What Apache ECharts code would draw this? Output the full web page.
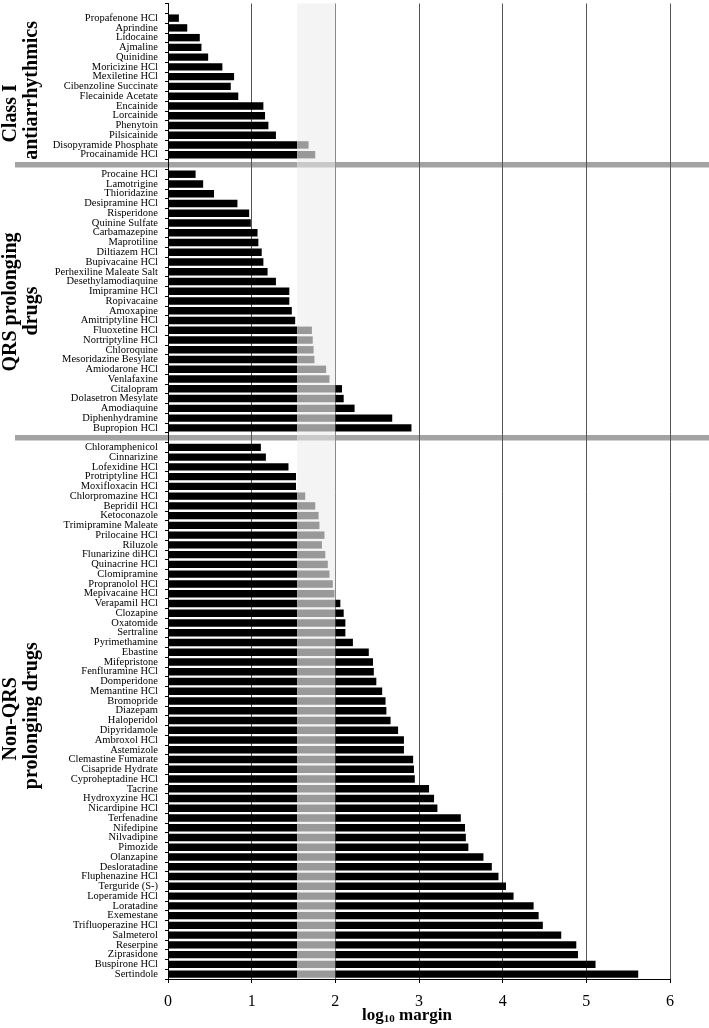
<!DOCTYPE html>
<html><head><meta charset="utf-8">
<script src="https://cdn.jsdelivr.net/npm/echarts@6/dist/echarts.min.js"></script>
<style>html,body{margin:0;padding:0;background:#fff}#c{width:709px;height:1028px}</style>
</head><body><div id="c"></div>
<script>
const classINames = ['Propafenone HCl','Aprindine','Lidocaine','Ajmaline','Quinidine','Moricizine HCl','Mexiletine HCl','Cibenzoline Succinate','Flecainide Acetate','Encainide','Lorcainide','Phenytoin','Pilsicainide','Disopyramide Phosphate','Procainamide HCl'];
const classIVals = [0.13,0.23,0.38,0.40,0.48,0.65,0.79,0.75,0.84,1.14,1.16,1.20,1.29,1.68,1.76];

const qrsNames = ['Procaine HCl','Lamotrigine','Thioridazine','Desipramine HCl','Risperidone','Quinine Sulfate','Carbamazepine','Maprotiline','Diltiazem HCl','Bupivacaine HCl','Perhexiline Maleate Salt','Desethylamodiaquine','Imipramine HCl','Ropivacaine','Amoxapine','Amitriptyline HCl','Fluoxetine HCl','Nortriptyline HCl','Chloroquine','Mesoridazine Besylate','Amiodarone HCl','Venlafaxine','Citalopram','Dolasetron Mesylate','Amodiaquine','Diphenhydramine','Bupropion HCl'];
const qrsVals = [0.33,0.42,0.55,0.83,0.97,0.99,1.07,1.08,1.12,1.14,1.19,1.29,1.45,1.45,1.48,1.52,1.72,1.73,1.74,1.75,1.89,1.93,2.08,2.10,2.23,2.68,2.91];

const nonNames = ['Chloramphenicol','Cinnarizine','Lofexidine HCl','Protriptyline HCl','Moxifloxacin HCl','Chlorpromazine HCl','Bepridil HCl','Ketoconazole','Trimipramine Maleate','Prilocaine HCl','Riluzole','Flunarizine diHCl','Quinacrine HCl','Clomipramine','Propranolol HCl','Mepivacaine HCl','Verapamil HCl','Clozapine','Oxatomide','Sertraline','Pyrimethamine','Ebastine','Mifepristone','Fenfluramine HCl','Domperidone','Memantine HCl','Bromopride','Diazepam','Haloperidol','Dipyridamole','Ambroxol HCl','Astemizole','Clemastine Fumarate','Cisapride Hydrate','Cyproheptadine HCl','Tacrine','Hydroxyzine HCl','Nicardipine HCl','Terfenadine','Nifedipine','Nilvadipine','Pimozide','Olanzapine','Desloratadine','Fluphenazine HCl','Terguride (S-)','Loperamide HCl','Loratadine','Exemestane','Trifluoperazine HCl','Salmeterol','Reserpine','Ziprasidone','Buspirone HCl','Sertindole'];
const nonVals = [1.11,1.17,1.44,1.53,1.53,1.64,1.76,1.80,1.81,1.87,1.84,1.88,1.91,1.93,1.97,1.99,2.06,2.10,2.12,2.12,2.21,2.40,2.45,2.46,2.49,2.56,2.60,2.61,2.66,2.75,2.82,2.82,2.93,2.94,2.95,3.12,3.18,3.22,3.50,3.55,3.56,3.59,3.77,3.87,3.95,4.04,4.13,4.37,4.43,4.48,4.70,4.88,4.90,5.11,5.62];

const xTicks = [0,1,2,3,4,5,6];
const BAND_LO = Math.log10(35), BAND_HI = 2;

const cats = ['__top'].concat(classINames, ['__sep1'], qrsNames, ['__sep2'], nonNames);
const vals = [null].concat(classIVals, [null], qrsVals, [null], nonVals);
const seg1 = vals.map(v => v == null ? null : Math.min(v, BAND_LO));
const seg2 = vals.map(v => v == null ? null : Math.max(0, Math.min(v, BAND_HI) - BAND_LO));
const seg3 = vals.map(v => v == null ? null : Math.max(0, v - BAND_HI));

const serif = 'Liberation Serif';
const chart = echarts.init(document.getElementById('c'), null, {renderer: 'canvas'});
const barCommon = {type: 'bar', stack: 'v', barWidth: '76%', silent: true, animation: false};
chart.setOption({
  animation: false,
  backgroundColor: '#fff',
  grid: {left: 168, right: 39, top: 3.5, bottom: 49, containLabel: false, outerBoundsMode: 'none'},
  xAxis: {
    type: 'value', min: xTicks[0], max: xTicks[xTicks.length-1], interval: 1,
    axisLine: {show: true, lineStyle: {color: '#000', width: 1}},
    axisTick: {show: true, length: 4, lineStyle: {color: '#000'}},
    axisLabel: {fontFamily: serif, fontSize: 16, color: '#000', margin: 15},
    splitLine: {show: true, lineStyle: {color: '#555', width: 1}},
    name: '{b|log}{s|10}{b| margin}',
    nameLocation: 'middle', nameGap: 27, nameMoveOverlap: false,
    nameTextStyle: {padding: [0, 24, 0, 0], rich: {
      b: {fontFamily: serif, fontSize: 17, fontWeight: 'bold', color: '#000'},
      s: {fontFamily: serif, fontSize: 11, fontWeight: 'bold', color: '#000', verticalAlign: 'bottom', padding: [8, 0, 0, 0]}
    }}
  },
  yAxis: {
    type: 'category', inverse: true, data: cats,
    axisLine: {show: true, lineStyle: {color: '#000', width: 1}},
    axisTick: {show: true, interval: 0, length: 3, lineStyle: {color: '#000'}},
    axisLabel: {interval: 0, fontFamily: serif, fontSize: 10.5, color: '#000', margin: 10,
      formatter: v => v.startsWith('__') ? '' : v},
    splitLine: {show: false}
  },
  series: [
    Object.assign({}, barCommon, {name: 'a', data: seg1, itemStyle: {color: '#000'},
      markArea: {silent: true, itemStyle: {color: '#f4f4f4'}, data: [[{xAxis: BAND_LO}, {xAxis: BAND_HI}]]}}),
    Object.assign({}, barCommon, {name: 'b', data: seg2, itemStyle: {color: '#999'}}),
    Object.assign({}, barCommon, {name: 'c', data: seg3, itemStyle: {color: '#000'}})
  ]
});

const yOf = n => chart.convertToPixel({yAxisIndex: 0}, n);
const xOf = v => chart.convertToPixel({xAxisIndex: 0}, v);
const gfx = [];
['__sep1', '__sep2'].forEach(s => {
  const y = yOf(s);
  gfx.push({type: 'rect', z: -1, shape: {x: 15, y: y - 2.5, width: 694, height: 5.5}, style: {fill: '#a3a3a3'}, silent: true});
  gfx.push({type: 'rect', z: 3, shape: {x: xOf(BAND_LO), y: y - 2.5, width: xOf(BAND_HI) - xOf(BAND_LO) - 0.5, height: 5.5}, style: {fill: '#c9c9c9'}, silent: true});
});
function groupCenter(first, last) { return (yOf(first) + yOf(last)) / 2; }
const titles = [
  {lines: ['Class I', 'antiarrhythmics'], c: groupCenter(classINames[0], classINames[classINames.length-1]), off: [27, 4]},
  {lines: ['QRS prolonging', 'drugs'], c: groupCenter(qrsNames[0], qrsNames[qrsNames.length-1]), off: [1, 10]},
  {lines: ['Non-QRS', 'prolonging drugs'], c: groupCenter(nonNames[0], nonNames[nonNames.length-1]), off: [8, 5]}
];
const colX = [11, 32];
titles.forEach(t => {
  t.lines.forEach((ln, i) => {
    gfx.push({type: 'text', x: colX[i], y: t.c + t.off[i], rotation: Math.PI / 2, silent: true,
      style: {text: ln, fontFamily: serif, fontSize: 20, fontWeight: 'bold', fill: '#000', align: 'center', verticalAlign: 'middle'}});
  });
});
chart.setOption({graphic: gfx});
</script></body></html>
